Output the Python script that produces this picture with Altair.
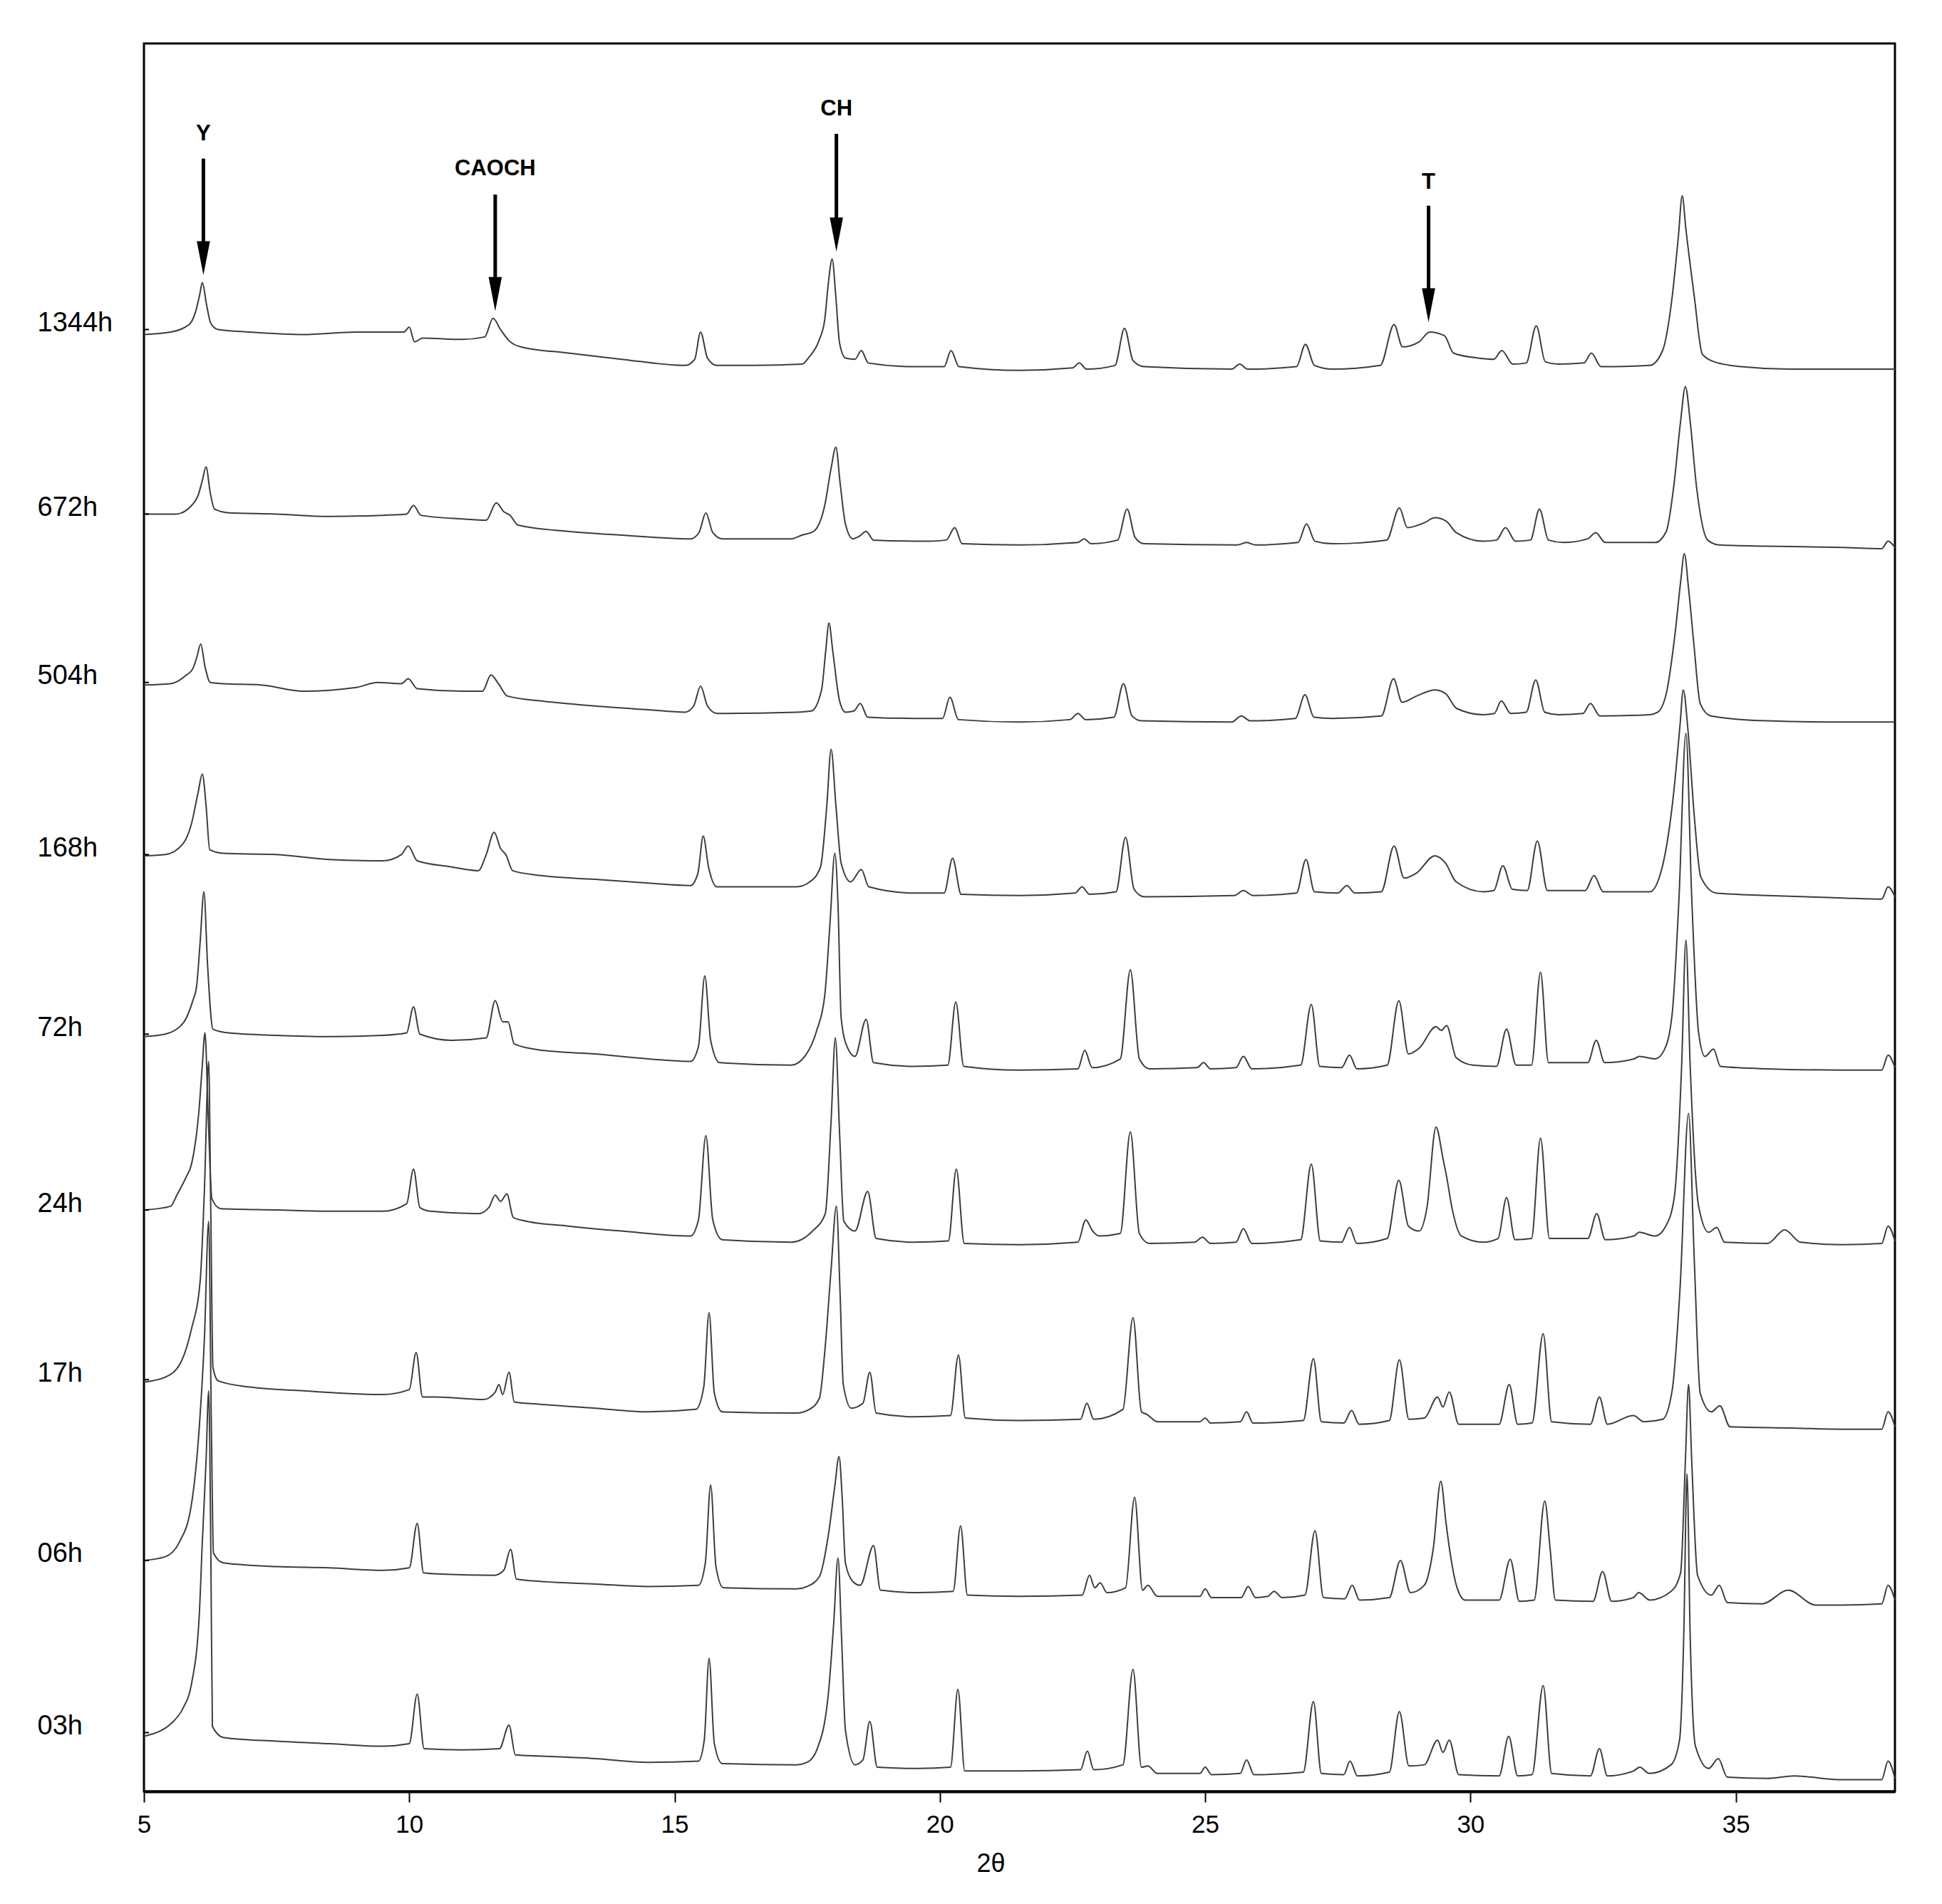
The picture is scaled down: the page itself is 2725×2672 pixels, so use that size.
import altair as alt
import pandas as pd

# ---------------- data ----------------
samples = ["1344h", "672h", "504h", "168h", "72h", "24h", "17h", "06h", "03h"]
# stacked baseline level of each pattern at the left edge (where the sample label sits)
label_level = [1179, 1030, 894, 755, 610, 468, 331, 185, 46]

# (2theta, stacked intensity) pairs of each pattern
s_1344h = [(5.00,1175),(5.50,1177),(5.85,1183),(5.97,1193),(6.05,1207),(6.10,1217),(6.18,1199),(6.26,1184),(6.40,1179),(7.00,1177),(8.00,1175),(9.00,1177),(9.90,1177),(10.00,1181),(10.10,1169),(10.25,1172),(11.00,1171),(11.42,1173),(11.58,1188),(11.72,1179),(11.88,1170),(12.10,1165),(13.00,1160),(14.00,1155),(15.20,1150),(15.38,1155),(15.49,1177),(15.62,1156),(15.80,1150),(16.50,1150),(17.40,1151),(17.54,1157),(17.72,1170),(17.83,1187),(17.90,1217),(17.97,1236),(18.04,1205),(18.11,1168),(18.22,1156),(18.40,1155),(18.52,1162),(18.65,1152),(19.50,1149),(20.08,1149),(20.21,1162),(20.36,1149),(21.50,1146),(22.50,1148),(22.63,1152),(22.76,1147),(23.30,1150),(23.48,1180),(23.64,1154),(23.85,1149),(25.50,1147),(25.65,1151),(25.80,1147),(26.72,1149),(26.89,1167),(27.06,1150),(27.40,1147),(28.30,1150),(28.56,1183),(28.72,1165),(29.03,1169),(29.23,1177),(29.51,1174),(29.68,1160),(30.14,1156),(30.44,1155),(30.59,1162),(30.80,1151),(31.05,1152),(31.24,1182),(31.41,1153),(31.66,1151),(32.14,1152),(32.28,1160),(32.46,1149),(33.38,1150),(33.62,1162),(33.80,1205),(33.92,1255),(33.99,1287),(34.06,1260),(34.22,1205),(34.37,1159),(34.59,1153),(35.10,1149),(36.00,1147),(37.00,1147),(38.00,1147)]

s_672h = [(5.00,1030),(5.60,1030),(5.90,1037),(6.02,1045),(6.10,1057),(6.17,1068),(6.25,1047),(6.33,1034),(6.60,1031),(7.50,1030),(8.50,1028),(9.50,1029),(9.95,1030),(10.08,1037),(10.22,1029),(11.00,1026),(11.45,1025),(11.64,1039),(11.78,1032),(11.90,1029),(12.05,1021),(13.00,1016),(14.00,1013),(15.30,1010),(15.46,1015),(15.59,1031),(15.72,1015),(15.90,1010),(17.20,1010),(17.40,1013),(17.62,1016),(17.83,1037),(17.95,1067),(18.04,1084),(18.12,1055),(18.22,1022),(18.36,1010),(18.48,1012),(18.61,1016),(18.75,1009),(19.80,1008),(20.12,1009),(20.28,1019),(20.42,1006),(21.50,1005),(22.60,1007),(22.72,1010),(22.85,1006),(23.35,1009),(23.53,1034),(23.68,1011),(23.85,1006),(25.60,1005),(25.78,1007),(25.95,1005),(26.75,1007),(26.91,1022),(27.07,1008),(27.40,1006),(28.42,1009),(28.66,1035),(28.81,1019),(29.13,1023),(29.33,1027),(29.55,1024),(29.73,1015),(30.24,1008),(30.49,1009),(30.66,1019),(30.85,1008),(31.13,1009),(31.30,1034),(31.47,1009),(31.75,1007),(32.21,1010),(32.36,1015),(32.54,1007),(33.48,1007),(33.69,1016),(33.83,1052),(33.96,1105),(34.05,1133),(34.14,1105),(34.26,1052),(34.47,1009),(34.69,1005),(35.60,1004),(37.00,1003),(37.75,1002),(37.87,1008),(38.00,1003)]

s_504h = [(5.00,892),(5.50,893),(5.80,900),(5.92,905),(6.00,915),(6.07,925),(6.15,907),(6.25,894),(6.50,893),(7.20,892),(8.00,887),(9.00,890),(9.40,894),(9.85,893),(9.98,897),(10.15,889),(11.00,887),(11.38,887),(11.54,900),(11.68,893),(11.85,883),(12.50,879),(13.50,875),(14.50,872),(15.20,870),(15.36,875),(15.49,891),(15.62,875),(15.80,869),(17.30,870),(17.58,871),(17.77,888),(17.85,920),(17.91,942),(17.98,920),(18.11,879),(18.22,870),(18.38,871),(18.50,877),(18.64,866),(19.50,865),(20.05,865),(20.19,882),(20.35,864),(21.50,862),(22.45,864),(22.60,869),(22.75,864),(23.28,866),(23.46,893),(23.62,867),(23.80,863),(25.50,862),(25.68,867),(25.85,863),(26.70,865),(26.88,884),(27.05,866),(27.40,865),(28.32,867),(28.55,897),(28.71,878),(28.98,883),(29.33,888),(29.53,885),(29.74,873),(30.24,868),(30.45,869),(30.58,879),(30.76,869),(31.05,870),(31.23,896),(31.40,870),(31.66,868),(32.12,869),(32.26,877),(32.44,867),(33.38,868),(33.53,870),(33.70,887),(33.86,935),(33.96,975),(34.03,998),(34.11,970),(34.21,925),(34.33,877),(34.53,867),(35.60,863),(37.00,862),(38.00,862)]

s_168h = [(5.00,754),(5.40,755),(5.74,764),(5.89,779),(6.02,805),(6.10,820),(6.17,795),(6.24,759),(6.50,756),(7.50,755),(8.50,751),(9.50,750),(9.85,755),(9.98,762),(10.15,750),(10.80,745),(11.30,742),(11.45,755),(11.60,773),(11.72,760),(11.82,755),(11.95,742),(12.50,738),(13.50,735),(14.50,732),(15.30,730),(15.44,740),(15.54,770),(15.64,745),(15.80,729),(17.30,729),(17.55,733),(17.75,745),(17.87,795),(17.95,840),(18.04,795),(18.14,748),(18.32,733),(18.52,743),(18.66,729),(19.50,724),(20.08,724),(20.24,752),(20.40,723),(21.50,722),(22.55,724),(22.68,729),(22.82,723),(23.32,725),(23.50,769),(23.66,727),(23.85,721),(25.55,722),(25.72,726),(25.90,722),(26.72,724),(26.90,751),(27.06,725),(27.50,724),(27.67,730),(27.82,724),(28.32,725),(28.56,762),(28.75,736),(28.98,740),(29.33,754),(29.53,748),(29.73,733),(30.24,725),(30.44,726),(30.61,746),(30.79,727),(31.07,726),(31.26,766),(31.45,726),(32.16,726),(32.33,738),(32.50,725),(33.38,725),(33.62,746),(33.83,805),(33.95,860),(34.01,888),(34.10,855),(34.22,785),(34.34,737),(34.63,724),(35.60,722),(37.00,720),(37.75,719),(37.87,729),(38.00,721)]

s_72h = [(5.00,608),(5.40,610),(5.74,619),(5.92,637),(5.99,648),(6.06,685),(6.13,725),(6.20,665),(6.30,614),(6.60,611),(7.50,609),(8.50,608),(9.50,609),(9.95,611),(10.08,632),(10.20,610),(10.80,605),(11.45,607),(11.62,637),(11.76,620),(11.86,620),(11.98,602),(12.50,597),(13.50,594),(14.50,590),(15.30,588),(15.45,600),(15.57,657),(15.68,605),(15.85,587),(17.20,585),(17.47,593),(17.68,613),(17.83,641),(17.93,700),(18.02,756),(18.08,715),(18.14,623),(18.25,600),(18.40,592),(18.61,622),(18.75,587),(19.50,584),(20.15,585),(20.30,636),(20.45,584),(21.50,581),(22.60,582),(22.73,597),(22.87,583),(23.40,590),(23.59,662),(23.76,590),(23.95,582),(24.85,583),(24.97,587),(25.10,582),(25.58,583),(25.72,592),(25.88,582),(26.80,585),(27.00,634),(27.16,584),(27.57,583),(27.72,593),(27.86,582),(28.43,585),(28.65,637),(28.83,594),(29.04,599),(29.35,616),(29.45,613),(29.55,617),(29.73,591),(30.04,585),(30.49,584),(30.68,614),(30.86,585),(31.15,585),(31.32,660),(31.47,587),(32.21,587),(32.37,605),(32.53,587),(33.08,590),(33.18,592),(33.48,590),(33.65,597),(33.80,626),(33.93,720),(34.06,853),(34.17,720),(34.30,611),(34.42,592),(34.58,598),(34.71,584),(35.60,582),(37.00,581),(37.75,581),(37.87,593),(38.00,583)]

s_24h = [(5.00,468),(5.50,471),(5.62,480),(5.80,495),(5.89,504),(6.04,550),(6.10,585),(6.15,611),(6.21,545),(6.28,477),(6.45,469),(7.50,468),(8.50,467),(9.50,467),(9.95,473),(10.08,501),(10.20,470),(10.40,467),(11.30,465),(11.50,470),(11.62,480),(11.72,475),(11.84,481),(11.96,462),(12.20,459),(13.00,455),(14.00,451),(15.30,447),(15.45,460),(15.59,528),(15.72,460),(15.90,444),(17.20,442),(17.60,451),(17.84,465),(17.95,540),(18.03,607),(18.11,530),(18.19,459),(18.40,451),(18.64,483),(18.80,445),(19.50,442),(20.16,443),(20.31,501),(20.46,441),(21.50,440),(22.60,442),(22.75,460),(22.88,451),(23.00,447),(23.40,449),(23.59,531),(23.76,449),(23.95,441),(24.80,442),(24.95,446),(25.10,441),(25.58,442),(25.72,453),(25.88,441),(26.80,444),(27.00,505),(27.17,443),(27.57,442),(27.72,454),(27.86,441),(28.43,445),(28.65,492),(28.83,455),(29.03,451),(29.18,470),(29.35,535),(29.48,510),(29.55,495),(29.65,470),(29.83,447),(30.24,442),(30.52,445),(30.68,478),(30.84,444),(31.15,445),(31.32,526),(31.49,445),(32.21,445),(32.38,465),(32.54,444),(33.08,447),(33.18,450),(33.48,447),(33.68,455),(33.84,478),(33.98,585),(34.06,686),(34.14,585),(34.30,471),(34.49,450),(34.64,454),(34.79,442),(35.60,441),(35.92,452),(36.22,442),(37.00,440),(37.75,441),(37.87,455),(38.00,443)]

s_17h = [(5.00,329),(5.40,333),(5.67,343),(5.89,371),(6.06,411),(6.14,485),(6.22,588),(6.26,465),(6.30,341),(6.40,330),(7.00,325),(8.00,322),(9.50,319),(10.00,323),(10.13,353),(10.25,317),(10.50,317),(11.40,315),(11.62,321),(11.69,327),(11.76,319),(11.88,337),(11.98,313),(12.50,311),(13.50,308),(14.50,305),(15.40,307),(15.55,325),(15.65,385),(15.75,320),(15.90,305),(17.30,304),(17.54,307),(17.73,316),(17.83,353),(17.95,420),(18.05,471),(18.12,400),(18.18,327),(18.33,308),(18.55,312),(18.68,337),(18.80,304),(19.50,301),(20.20,302),(20.35,351),(20.48,300),(21.50,298),(22.65,299),(22.77,312),(22.90,299),(23.45,307),(23.64,381),(23.80,305),(23.90,303),(24.10,297),(24.90,297),(25.00,300),(25.10,296),(25.66,297),(25.78,305),(25.90,296),(26.85,298),(27.04,348),(27.19,297),(27.61,296),(27.76,306),(27.90,295),(28.47,298),(28.66,347),(28.84,299),(29.13,300),(29.38,317),(29.48,309),(29.60,321),(29.78,295),(30.54,295),(30.73,327),(30.89,295),(31.16,296),(31.37,368),(31.53,297),(32.26,295),(32.43,317),(32.58,295),(33.07,302),(33.27,297),(33.62,299),(33.80,322),(33.95,405),(34.11,546),(34.22,425),(34.33,320),(34.54,305),(34.70,310),(34.89,293),(36.00,292),(37.00,291),(37.75,291),(37.87,305),(38.00,293)]

s_06h = [(5.00,185),(5.40,188),(5.67,200),(5.89,229),(6.04,291),(6.14,365),(6.22,459),(6.27,295),(6.31,191),(6.50,183),(7.50,180),(8.50,179),(9.50,177),(10.00,179),(10.15,215),(10.27,175),(10.60,174),(11.60,173),(11.78,177),(11.91,194),(12.02,170),(12.50,168),(13.50,166),(14.50,164),(15.45,165),(15.58,183),(15.68,246),(15.78,180),(15.92,163),(17.30,162),(17.50,164),(17.73,172),(17.90,206),(18.02,245),(18.10,269),(18.16,235),(18.22,183),(18.36,168),(18.50,165),(18.75,197),(18.88,161),(19.60,159),(20.25,160),(20.39,213),(20.52,157),(21.50,156),(22.68,157),(22.82,173),(22.92,163),(23.02,167),(23.15,159),(23.50,163),(23.67,236),(23.82,161),(23.92,165),(24.10,156),(24.90,156),(25.00,162),(25.12,155),(25.68,155),(25.81,164),(25.95,155),(26.18,156),(26.30,160),(26.45,155),(26.88,157),(27.07,209),(27.23,155),(27.63,154),(27.77,165),(27.91,153),(28.47,155),(28.68,185),(28.87,159),(29.13,165),(29.30,195),(29.44,249),(29.54,215),(29.62,190),(29.74,164),(29.90,153),(30.54,153),(30.75,186),(30.92,152),(31.20,153),(31.40,233),(31.50,195),(31.60,153),(32.31,152),(32.49,176),(32.66,152),(33.07,155),(33.17,159),(33.38,153),(33.78,160),(33.96,175),(34.05,265),(34.11,327),(34.17,265),(34.28,173),(34.54,157),(34.69,165),(34.84,151),(35.50,150),(35.99,161),(36.50,149),(37.00,149),(37.75,150),(37.87,165),(38.00,153)]

s_03h = [(5.00,43),(5.53,54),(5.74,66),(5.89,84),(6.04,139),(6.10,200),(6.17,265),(6.22,322),(6.26,195),(6.29,51),(6.50,42),(7.50,39),(8.50,37),(9.50,35),(10.00,37),(10.15,77),(10.28,33),(11.00,32),(11.70,33),(11.88,52),(12.00,28),(12.50,27),(13.50,25),(14.50,22),(15.45,23),(15.56,40),(15.65,106),(15.75,37),(15.90,21),(17.30,20),(17.50,22),(17.69,33),(17.90,78),(18.00,135),(18.08,187),(18.15,120),(18.22,48),(18.40,20),(18.55,24),(18.68,55),(18.82,18),(19.60,17),(20.20,18),(20.34,81),(20.47,15),(21.50,15),(22.65,16),(22.78,31),(22.90,16),(23.45,20),(23.64,97),(23.80,18),(23.92,19),(24.10,13),(24.90,13),(25.00,18),(25.12,12),(25.66,13),(25.78,24),(25.92,12),(26.85,14),(27.04,71),(27.19,13),(27.61,12),(27.73,23),(27.87,11),(28.47,14),(28.66,63),(28.84,19),(29.13,20),(29.38,40),(29.48,30),(29.60,40),(29.78,12),(30.54,11),(30.72,43),(30.89,11),(31.16,12),(31.37,84),(31.53,13),(32.26,11),(32.43,33),(32.58,11),(33.07,15),(33.19,18),(33.37,13),(33.78,20),(33.94,40),(34.02,125),(34.08,255),(34.14,125),(34.24,35),(34.49,17),(34.67,25),(34.84,10),(35.60,9),(36.10,11),(37.00,8),(37.75,8),(37.87,23),(38.00,9)]

traces = [s_1344h, s_672h, s_504h, s_168h, s_72h, s_24h, s_17h, s_06h, s_03h]

x_ticks = [5, 10, 15, 20, 25, 30, 35]

# phase annotations (arrow markers)
ann_label = ["Y", "CAOCH", "CH", "T"]
ann_theta = [6.12, 11.62, 18.05, 29.21]
ann_text_level = [1337, 1309, 1357, 1298]
ann_top_level = [1317, 1288, 1337, 1279]
ann_base_level = [1245, 1216, 1264, 1207]
ann_tip_level = [1223, 1194, 1242, 1185]

# ---------------- tables ----------------
rows = []
for name, pts in zip(samples, traces):
    for t, v in pts:
        rows.append({"sample": name, "two_theta": t, "intensity": v})
df = pd.DataFrame(rows)

lab_df = pd.DataFrame({"sample": samples, "level": label_level})
ann_df = pd.DataFrame({
    "label": ann_label, "theta": ann_theta, "text_level": ann_text_level,
    "top": ann_top_level, "base": ann_base_level, "tip": ann_tip_level,
})

FONT = "Liberation Sans"
W, H = 2457, 2453

x_scale = alt.Scale(domain=[5, 38], nice=False, zero=False)
y_scale = alt.Scale(domain=[-1.5, 1410], nice=False, zero=False)

label_expr = " : ".join(
    f"datum.value == {lv} ? '{nm}'" for lv, nm in zip(label_level, samples)
) + " : ''"

x_axis = alt.Axis(
    values=x_ticks, format="d", title="2θ", grid=False,
    domain=True, domainColor="black", domainWidth=4,
    ticks=True, tickSize=15, tickWidth=2, tickColor="black",
    labelFont=FONT, labelFontSize=35, labelColor="black", labelPadding=14,
    labelFlush=False, labelOverlap=False,
    titleFont=FONT, titleFontSize=36, titleFontWeight="normal", titleColor="black",
    titleX=1188, titleY=101, titleBaseline="middle", titleAlign="center",
)
y_axis = alt.Axis(
    values=label_level, labelExpr=label_expr, title=None, grid=False,
    domain=False, ticks=False, tickSize=0,
    labelFont=FONT, labelFontSize=38, labelColor="black",
    labelAlign="left", labelBaseline="middle", labelPadding=150,
    labelOffset=-9, labelFlush=False, labelOverlap=False,
)

lines = alt.Chart(df).mark_line(
    color="#3d3d3d", strokeWidth=2, interpolate="monotone"
).encode(
    x=alt.X("two_theta:Q", scale=x_scale, axis=x_axis),
    y=alt.Y("intensity:Q", scale=y_scale, axis=y_axis),
    detail="sample:N",
    order="two_theta:Q",
)

inner_ticks = alt.Chart(lab_df).mark_rule(color="black", strokeWidth=2).encode(
    x=alt.value(0), x2=alt.value(7),
    y=alt.Y("level:Q", scale=y_scale),
)

shafts = alt.Chart(ann_df).mark_rule(color="black", strokeWidth=5).encode(
    x=alt.X("theta:Q", scale=x_scale),
    y=alt.Y("top:Q", scale=y_scale),
    y2="base:Q",
)

heads = alt.Chart(ann_df).mark_point(
    shape="M-0.39,-1L0.39,-1L0,1Z", size=2266, filled=True,
    color="black", opacity=1, yOffset=-23.8,
).encode(
    x=alt.X("theta:Q", scale=x_scale),
    y=alt.Y("tip:Q", scale=y_scale),
)

ann_text = alt.Chart(ann_df).mark_text(
    font=FONT, fontSize=31, fontWeight="bold", color="black",
    align="center", baseline="middle",
).encode(
    x=alt.X("theta:Q", scale=x_scale),
    y=alt.Y("text_level:Q", scale=y_scale),
    text="label:N",
)

chart = alt.layer(lines, inner_ticks, shafts, heads, ann_text).properties(
    width=W, height=H,
    autosize=alt.AutoSizeParams(type="none"),
    padding={"left": 194, "top": 53, "right": 50, "bottom": 140},
    background="white",
).configure_view(
    stroke="black", strokeWidth=3,
)

chart.save("out.html", embed_options={"renderer": "svg", "actions": False})
